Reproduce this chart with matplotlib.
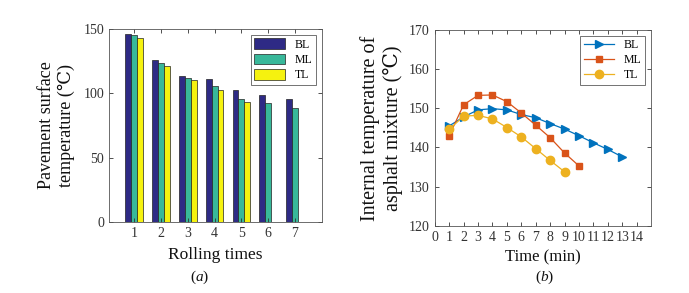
import matplotlib
matplotlib.use("Agg")
import matplotlib.pyplot as plt
import numpy as np

plt.rcParams['font.family'] = ['Liberation Serif', 'DejaVu Serif']
plt.rcParams['mathtext.fontset'] = 'custom'
plt.rcParams['mathtext.it'] = 'Liberation Serif:italic'
plt.rcParams['mathtext.rm'] = 'Liberation Serif'

# Panel (a) data
rolling = [1, 2, 3, 4, 5, 6, 7]
bar_BL = [146.4, 126.0, 113.5, 111.0, 103.0, 98.8, 95.7]
bar_ML = [145.3, 123.4, 111.7, 105.5, 96.0, 92.6, 88.4]
bar_TL = [143.3, 121.0, 110.4, 102.7, 93.4, 0, 0]

# Panel (b) data
t_BL = [1, 2, 3, 4, 5, 6, 7, 8, 9, 10, 11, 12, 13]
v_BL = [145.5, 147.8, 149.6, 149.9, 149.6, 148.4, 147.6, 146.1, 144.7, 143.0, 141.2, 139.5, 137.6]
t_ML = [1, 2, 3, 4, 5, 6, 7, 8, 9, 10]
v_ML = [143.0, 150.9, 153.3, 153.4, 151.7, 148.8, 145.7, 142.5, 138.6, 135.3]
t_TL = [1, 2, 3, 4, 5, 6, 7, 8, 9]
v_TL = [144.6, 148.0, 148.2, 147.3, 145.1, 142.7, 139.7, 136.7, 133.8]

fig = plt.figure(figsize=(6.89, 2.93), dpi=100)
txt = '#333333'

def style(ax):
    ax.tick_params(direction='in', top=True, right=True, labelsize=10, colors=txt, length=3, width=0.6)
    for s in ax.spines.values():
        s.set_linewidth(0.6)
        s.set_color('#555555')

# Panel (a)
ax1 = fig.add_axes([0.158, 0.242, 0.309, 0.659])
x = np.array(rolling)
w = 0.22
ax1.bar(x - w, bar_BL, w, color='#2e2a85', edgecolor='#222222', linewidth=0.5, label='BL')
ax1.bar(x, bar_ML, w, color='#38b89a', edgecolor='#222222', linewidth=0.5, label='ML')
ax1.bar(x + w, bar_TL, w, color='#f5f20f', edgecolor='#222222', linewidth=0.5, label='TL')
ax1.set_xlim(0.05, 8.0)
ax1.set_ylim(0, 150)
ax1.set_xticks(rolling)
ax1.set_yticks([0, 50, 100, 150])
style(ax1)
ax1.set_xlabel('Rolling times', fontsize=12.5, color='#111111', labelpad=5)
ax1.set_ylabel('Pavement surface\ntemperature (\u2103)', fontsize=13, color='#111111', labelpad=6)
leg = ax1.legend(loc='upper right', fontsize=8.5, frameon=True, fancybox=False, edgecolor='#333333',
                 handlelength=2.6, handleheight=1.0, borderpad=0.3, labelspacing=0.25)
leg.get_frame().set_linewidth(0.6)
fig.text(0.29, 0.04, '($a$)', fontsize=11, ha='center', color='#111111')

# Panel (b)
ax2 = fig.add_axes([0.631, 0.229, 0.314, 0.669])
ax2.plot(t_BL, v_BL, '-', marker='>', color='#0072BD', markersize=6, linewidth=0.9, label='BL')
ax2.plot(t_ML, v_ML, '-', marker='s', color='#D95319', markersize=5, linewidth=0.9, label='ML')
ax2.plot(t_TL, v_TL, '-', marker='o', color='#EDB120', markersize=6, linewidth=0.9, label='TL')
ax2.set_xlim(0, 15)
ax2.set_ylim(120, 170)
ax2.set_xticks(range(0, 15))
ax2.set_yticks([120, 130, 140, 150, 160, 170])
style(ax2)
ax2.set_xlabel('Time (min)', fontsize=12, color='#111111', labelpad=4)
ax2.set_ylabel('Internal temperature of\nasphalt mixture (\u2103)', fontsize=14.5, color='#111111', labelpad=4)
leg2 = ax2.legend(loc='upper right', fontsize=8.5, frameon=True, fancybox=False, edgecolor='#333333',
                  handlelength=2.6, borderpad=0.3, labelspacing=0.25)
leg2.get_frame().set_linewidth(0.6)
fig.text(0.791, 0.04, '($b$)', fontsize=11, ha='center', color='#111111')

fig.savefig('out.png', dpi=100)
